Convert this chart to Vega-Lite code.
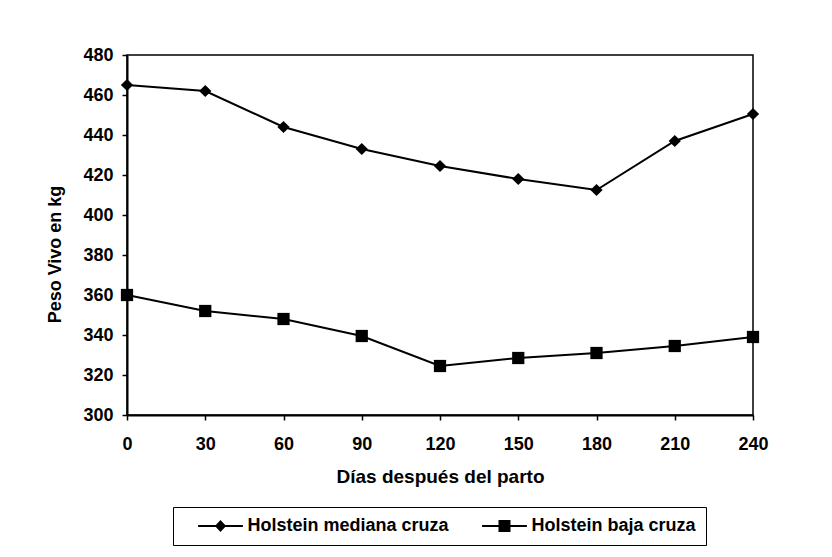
{
  "$schema": "https://vega.github.io/schema/vega-lite/v6.json",
  "autosize": "none",
  "width": 626,
  "height": 360,
  "padding": {"left": 127, "top": 55, "right": 79, "bottom": 142},
  "background": "white",
  "config": {
    "font": "Liberation Sans",
    "view": {"stroke": "black", "strokeWidth": 1.5},
    "axis": {
      "grid": false,
      "domainColor": "black",
      "domainWidth": 2,
      "tickColor": "black",
      "tickWidth": 1.5,
      "tickSize": 5,
      "labelColor": "black",
      "labelFont": "Liberation Sans",
      "labelFontSize": 18,
      "labelFontWeight": "bold",
      "titleFont": "Liberation Sans",
      "titleFontSize": 18,
      "titleFontWeight": "bold",
      "titleColor": "black"
    }
  },
  "data": {
    "values": [
      {"dia": 0, "serie": "Holstein mediana cruza", "peso": 465},
      {"dia": 30, "serie": "Holstein mediana cruza", "peso": 462},
      {"dia": 60, "serie": "Holstein mediana cruza", "peso": 444},
      {"dia": 90, "serie": "Holstein mediana cruza", "peso": 433},
      {"dia": 120, "serie": "Holstein mediana cruza", "peso": 424.5},
      {"dia": 150, "serie": "Holstein mediana cruza", "peso": 418},
      {"dia": 180, "serie": "Holstein mediana cruza", "peso": 412.5},
      {"dia": 210, "serie": "Holstein mediana cruza", "peso": 437},
      {"dia": 240, "serie": "Holstein mediana cruza", "peso": 450.5},
      {"dia": 0, "serie": "Holstein baja cruza", "peso": 360},
      {"dia": 30, "serie": "Holstein baja cruza", "peso": 352},
      {"dia": 60, "serie": "Holstein baja cruza", "peso": 348},
      {"dia": 90, "serie": "Holstein baja cruza", "peso": 339.5},
      {"dia": 120, "serie": "Holstein baja cruza", "peso": 324.5},
      {"dia": 150, "serie": "Holstein baja cruza", "peso": 328.5},
      {"dia": 180, "serie": "Holstein baja cruza", "peso": 331},
      {"dia": 210, "serie": "Holstein baja cruza", "peso": 334.5},
      {"dia": 240, "serie": "Holstein baja cruza", "peso": 339}
    ]
  },
  "encoding": {
    "x": {
      "field": "dia",
      "type": "quantitative",
      "scale": {"domain": [0, 240], "nice": false, "zero": false},
      "axis": {
        "title": "Días después del parto",
        "values": [0, 30, 60, 90, 120, 150, 180, 210, 240],
        "labelPadding": 15,
        "labelFlush": false,
        "titleBaseline": "middle",
        "titleFontSize": 19,
        "titleY": 61
      }
    },
    "y": {
      "field": "peso",
      "type": "quantitative",
      "scale": {"domain": [300, 480], "nice": false, "zero": false},
      "axis": {
        "title": "Peso Vivo en kg",
        "values": [300, 320, 340, 360, 380, 400, 420, 440, 460, 480],
        "labelPadding": 9,
        "labelFlush": false,
        "titleBaseline": "middle",
        "titleAlign": "center",
        "titleX": -72,
        "titleY": 199
      }
    }
  },
  "layer": [
    {
      "mark": {"type": "line", "color": "black", "strokeWidth": 2},
      "encoding": {"detail": {"field": "serie", "type": "nominal"}}
    },
    {
      "mark": {"type": "point", "filled": true, "color": "black", "opacity": 1, "size": 150},
      "encoding": {
        "shape": {
          "field": "serie",
          "type": "nominal",
          "scale": {"domain": ["Holstein mediana cruza", "Holstein baja cruza"], "range": ["diamond", "square"]},
          "legend": null
        }
      }
    },
    {
      "mark": {"type": "point", "filled": true, "color": "black", "opacity": 0},
      "encoding": {
        "shape": {
          "field": "serie",
          "type": "nominal",
          "scale": {
            "domain": ["Holstein mediana cruza", "Holstein baja cruza"],
            "range": [
              "M-2.8,-0.11H2.8V0.11H-2.8ZM-0.7,0L0,-0.75L0.7,0L0,0.75Z",
              "M-2.8,-0.11H2.8V0.11H-2.8ZM-0.75,-0.75H0.75V0.75H-0.75Z"
            ]
          },
          "legend": {
            "orient": "none",
            "legendX": 46,
            "legendY": 452,
            "direction": "horizontal",
            "title": null,
            "strokeColor": "black",
            "padding": 10,
            "symbolSize": 256,
            "symbolStrokeWidth": 0,
            "symbolOpacity": 1,
            "symbolFillColor": "black",
            "labelFont": "Liberation Sans",
            "labelFontSize": 18,
            "labelFontWeight": "bold",
            "labelColor": "black",
            "labelOffset": 18,
            "labelLimit": 400,
            "columnPadding": 18,
            "symbolOffset": 28.5,
            "encode": {
              "legend": {
                "update": {"strokeWidth": {"value": 1.5}}
              },
              "symbols": {
                "update": {
                  "opacity": {"value": 1},
                  "fill": {"value": "black"},
                  "strokeWidth": {"value": 0}
                }
              }
            }
          }
        }
      }
    }
  ],
  "resolve": {"scale": {"shape": "independent"}}
}
